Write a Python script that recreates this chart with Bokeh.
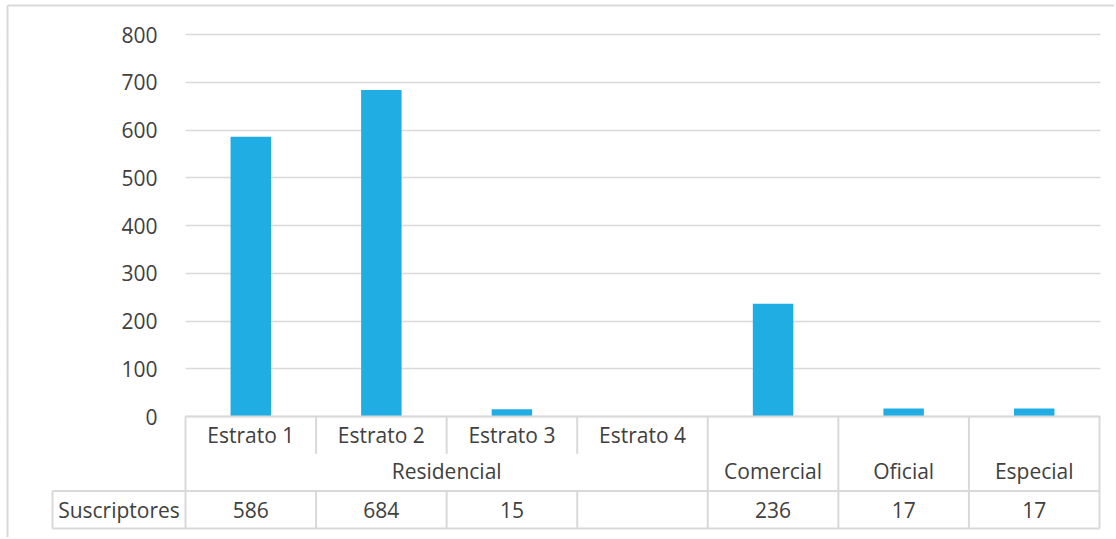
from bokeh.plotting import figure
from bokeh.models import Range1d, FixedTicker, ColumnDataSource
from bokeh.embed import file_html
from bokeh.resources import INLINE
from bokeh.core.properties import value

# ---- data ----
categories = ["Estrato 1", "Estrato 2", "Estrato 3", "Estrato 4", "Comercial", "Oficial", "Especial"]
groups = ["Residencial", "Residencial", "Residencial", "Residencial", "Comercial", "Oficial", "Especial"]
suscriptores = [586, 684, 15, None, 236, 17, 17]
series_name = "Suscriptores"
y_ticks = [0, 100, 200, 300, 400, 500, 600, 700, 800]

# ---- style / layout constants (pixels in page) ----
FONT = "Open Sans"
FS = "21px"
TXT = "#404040"
GRID = "#d9d9d9"
BAR = "#1fade4"

W, H = 1114, 537            # figure size
ORG_X, ORG_Y = 0, 0         # where the figure lands on the page
CAT_L, CAT_R = 185, 1099    # category band (plot area) left/right
ZERO_Y, TOP_Y = 416, 34     # pixel of 0 and of the top tick
HDR_L = 52                  # left edge of the table header cell
ROW_PX = 37.3               # data-table row height
BORDER_X, BORDER_Y = 7, 5   # outer chart border

n = len(categories)
ux = (CAT_R - CAT_L) / n                       # px per category
uy = (ZERO_Y - TOP_Y) / y_ticks[-1]            # px per value unit
x_start = (ORG_X - CAT_L) / ux
x_end = (ORG_X + W - CAT_L) / ux
y_end = (ZERO_Y - ORG_Y) / uy
y_start = -(ORG_Y + H - ZERO_Y) / uy
row = ROW_PX / uy
hx = (HDR_L - CAT_L) / ux

p = figure(width=W, height=H, x_range=Range1d(x_start, x_end), y_range=Range1d(y_start, y_end),
           output_backend="svg", toolbar_location=None, x_axis_location=None,
           min_border_left=0, min_border_right=0, min_border_top=0, min_border_bottom=0)
p.outline_line_color = None
p.xgrid.grid_line_color = None
p.ygrid.grid_line_color = GRID
p.ygrid.grid_line_width = 1.5
p.yaxis.ticker = FixedTicker(ticks=y_ticks)
p.yaxis.fixed_location = 0
p.yaxis.axis_line_color = None
p.yaxis.major_tick_line_color = None
p.yaxis.minor_tick_line_color = None
p.yaxis.major_label_standoff = 22
p.yaxis.major_label_text_font = FONT
p.yaxis.major_label_text_font_size = FS
p.yaxis.major_label_text_color = TXT

# white masks so the grid lines span only the plot area
p.quad(left=[x_start, n + 1.0 / ux], right=[0, x_end], bottom=[-2 / uy, -2 / uy], top=[y_end, y_end],
       fill_color="white", line_color=None)

# outer chart border (left and top)
bx = (BORDER_X - CAT_L) / ux
by = (ZERO_Y - BORDER_Y) / uy
p.segment(x0=[bx, bx], y0=[y_start, by], x1=[bx, x_end], y1=[by, by], line_color=GRID, line_width=2)

# bars
xs = [i + 0.5 for i in range(n)]
vals = [float("nan") if v is None else v for v in suscriptores]
src = ColumnDataSource(dict(x=xs, val=vals, cat=categories))
p.vbar(x="x", top="val", bottom=0, width=0.31, source=src, fill_color=BAR, line_color=None)

# ---------- data table ----------
r1, r2, r3 = -row, -2 * row, -3 * row
p.segment(x0=[0, hx, hx], y0=[0, r2, r3], x1=[n, n, n], y1=[0, r2, r3], line_color=GRID, line_width=2)

vx0, vy0, vx1, vy1 = [], [], [], []
for i in range(n + 1):
    left_grp = groups[i - 1] if i > 0 else None
    right_grp = groups[i] if i < n else None
    if left_grp is not None and left_grp == right_grp:
        vx0 += [i, i]; vy0 += [0, r2]; vx1 += [i, i]; vy1 += [r1, r3]
    else:
        vx0.append(i); vy0.append(0); vx1.append(i); vy1.append(r3)
vx0.append(hx); vy0.append(r2); vx1.append(hx); vy1.append(r3)
p.segment(x0=vx0, y0=vy0, x1=vx1, y1=vy1, line_color=GRID, line_width=2)

cat_x, cat_t = [], []
for i, (c, g) in enumerate(zip(categories, groups)):
    if groups.count(g) > 1:
        cat_x.append(i + 0.5); cat_t.append(c)
grp_x, grp_t, seen = [], [], []
for g in groups:
    if g in seen:
        continue
    seen.append(g)
    idx = [i for i, gg in enumerate(groups) if gg == g]
    grp_x.append((min(idx) + max(idx) + 1) / 2)
    grp_t.append(g)

txt_kw = dict(text_font=value(FONT), text_font_size=value(FS), text_color=TXT,
              text_align="center", text_baseline="middle")
p.text(x=cat_x, y=[-0.5 * row] * len(cat_x), text=cat_t, **txt_kw)
p.text(x=grp_x, y=[-1.45 * row] * len(grp_x), text=grp_t, **txt_kw)
p.text(x=xs, y=[-2.5 * row] * n, text=["" if v is None else str(v) for v in suscriptores], **txt_kw)
p.text(x=[hx / 2], y=[-2.5 * row], text=[series_name], **txt_kw)

open("out.html", "w").write(file_html(p, INLINE))
